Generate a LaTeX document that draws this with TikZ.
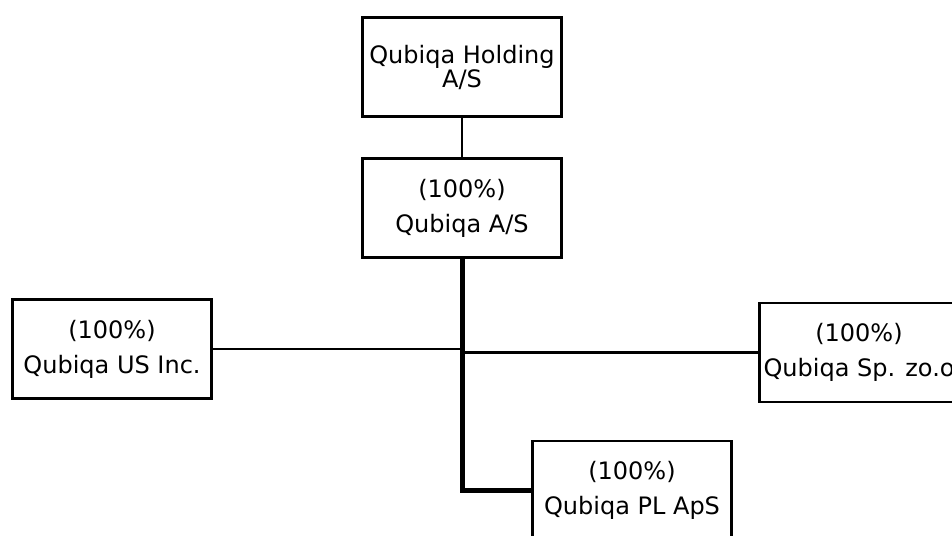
\documentclass[tikz,border=0pt]{standalone}
\usepackage{fontspec}
\setmainfont{DejaVu Sans}

\begin{document}
\begin{tikzpicture}[x=1pt, y=-1pt]
\tikzset{boite/.style={draw, line width=2.5pt, rectangle, minimum width=199pt, minimum height=99pt, inner sep=0pt, align=center, font=\fontsize{24}{35}\selectfont}}
\useasboundingbox (0, 0) rectangle (952, 535);
\clip (0, 0) rectangle (952, 535);
\node[boite, font=\fontsize{24}{24}\selectfont] (H) at (462, 67) {Qubiqa Holding\\A/S};
\node[boite] (A) at (462, 208) {(100\%)\\Qubiqa A/S};
\node[boite] (US) at (112, 349) {(100\%)\\Qubiqa US Inc.};
\node[boite] (SP) at (859, 352.5) {(100\%)\\Qubiqa Sp. zo.o};
\node[boite] (PL) at (632, 490.5) {(100\%)\\Qubiqa PL ApS};
\draw[line width=2.5pt] (H) -- (A);
\draw[line width=2.5pt] (US.east) -- (US.east -| A.south);
\draw[line width=2.5pt] (SP.west -| A.south) -- (SP.west);
\draw[line width=5pt] (A.south) |- (PL.west);
\end{tikzpicture}
\end{document}
